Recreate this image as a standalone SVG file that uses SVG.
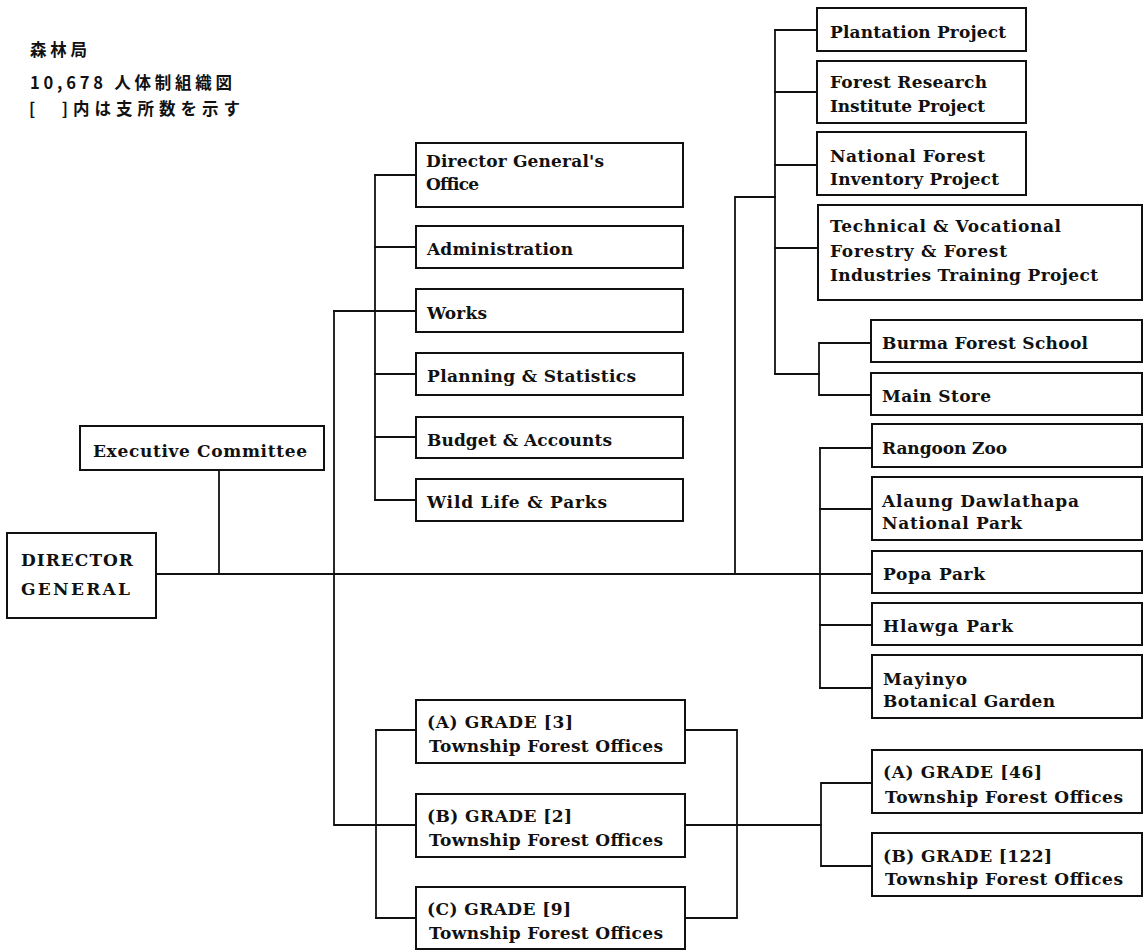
<svg xmlns="http://www.w3.org/2000/svg" width="1144" height="951" viewBox="0 0 1144 951">
  <style>
    .box { fill: #ffffff; stroke: #111111; stroke-width: 2; }
    .wire { fill: none; stroke: #111111; stroke-width: 1.8; stroke-linecap: square; }
    .lbl { font-family: "DejaVu Serif", "Liberation Serif", serif; font-size: 17px; font-weight: bold; fill: #111111; }
    .grd { font-family: "DejaVu Serif", "Liberation Serif", serif; font-size: 17px; fill: #111111; font-weight: bold; }
    .jp { font-family: "Noto Sans CJK JP", "Noto Sans CJK SC", sans-serif; font-size: 16.5px; font-weight: bold; fill: #111111; }
  </style>

  <rect width="1144" height="951" fill="#ffffff"/>

  <!-- heading -->
  <g id="heading">
    <text class="jp" x="30" y="56" textLength="57">森林局</text>
    <text class="jp" x="30" y="89" textLength="202">10,678 人体制組織図</text>
    <text class="jp" x="29" y="115" textLength="211">[　]内は支所数を示す</text>
  </g>

  <!-- connectors -->
  <g id="connectors">
    <!-- trunk from the Director General -->
    <path class="wire" d="M156 574 H872"/>
    <path class="wire" d="M219 470 V574"/>
    <!-- headquarters departments -->
    <path class="wire" d="M334 311 V825 H416"/>
    <path class="wire" d="M334 311 H375"/>
    <path class="wire" d="M375 175 V500"/>
    <path class="wire" d="M375 175 H416 M375 247 H416 M375 311 H416 M375 374 H416 M375 437 H416 M375 500 H416"/>
    <!-- projects -->
    <path class="wire" d="M735 574 V197 H775"/>
    <path class="wire" d="M775 30 V374"/>
    <path class="wire" d="M775 30 H817 M775 92 H817 M775 165 H817 M775 248 H818"/>
    <path class="wire" d="M775 374 H819"/>
    <path class="wire" d="M819 343 V395 M819 343 H871 M819 395 H871"/>
    <!-- parks and zoo -->
    <path class="wire" d="M820 448 V688"/>
    <path class="wire" d="M820 448 H872 M820 509 H872 M820 625 H872 M820 688 H872"/>
    <!-- district township offices -->
    <path class="wire" d="M376 730 V918"/>
    <path class="wire" d="M376 730 H416 M376 918 H416"/>
    <path class="wire" d="M685 730 H737 V918 H685"/>
    <path class="wire" d="M685 825 H821"/>
    <path class="wire" d="M821 783 V866 M821 783 H872 M821 866 H872"/>
  </g>

  <g id="director-general">
    <rect class="box" x="7" y="533" width="149" height="85"/>
    <text class="lbl" x="21" y="566" textLength="112">DIRECTOR</text>
    <text class="lbl" x="21" y="595" textLength="109">GENERAL</text>
  </g>

  <g id="executive-committee">
    <rect class="box" x="80" y="426" width="244" height="44"/>
    <text class="lbl" x="93" y="457" textLength="214">Executive Committee</text>
  </g>

  <g id="dg-office">
    <rect class="box" x="416" y="143" width="267" height="64"/>
    <text class="lbl" x="426" y="167" textLength="178">Director General's</text>
    <text class="lbl" x="426" y="190" textLength="53">Office</text>
  </g>

  <g id="administration">
    <rect class="box" x="416" y="226" width="267" height="42"/>
    <text class="lbl" x="427" y="255" textLength="146">Administration</text>
  </g>

  <g id="works">
    <rect class="box" x="416" y="289" width="267" height="43"/>
    <text class="lbl" x="427" y="319" textLength="60">Works</text>
  </g>

  <g id="planning">
    <rect class="box" x="416" y="353" width="267" height="42"/>
    <text class="lbl" x="427" y="382" textLength="209">Planning &amp; Statistics</text>
  </g>

  <g id="budget">
    <rect class="box" x="416" y="417" width="267" height="41"/>
    <text class="lbl" x="427" y="446" textLength="185">Budget &amp; Accounts</text>
  </g>

  <g id="wildlife">
    <rect class="box" x="416" y="479" width="267" height="42"/>
    <text class="lbl" x="427" y="508" textLength="180">Wild Life &amp; Parks</text>
  </g>

  <g id="plantation">
    <rect class="box" x="817" y="8" width="209" height="43"/>
    <text class="lbl" x="830" y="38" textLength="176">Plantation Project</text>
  </g>

  <g id="forest-research">
    <rect class="box" x="817" y="61" width="209" height="62"/>
    <text class="lbl" x="830" y="88" textLength="157">Forest Research</text>
    <text class="lbl" x="830" y="112" textLength="155">Institute Project</text>
  </g>

  <g id="forest-inventory">
    <rect class="box" x="817" y="132" width="209" height="63"/>
    <text class="lbl" x="830" y="162" textLength="155">National Forest</text>
    <text class="lbl" x="830" y="185" textLength="169">Inventory Project</text>
  </g>

  <g id="training">
    <rect class="box" x="818" y="205" width="324" height="95"/>
    <text class="lbl" x="830" y="232" textLength="231">Technical &amp; Vocational</text>
    <text class="lbl" x="830" y="257" textLength="177">Forestry &amp; Forest</text>
    <text class="lbl" x="830" y="281" textLength="268">Industries Training Project</text>
  </g>

  <g id="forest-school">
    <rect class="box" x="871" y="320" width="271" height="42"/>
    <text class="lbl" x="882" y="349" textLength="206">Burma Forest School</text>
  </g>

  <g id="main-store">
    <rect class="box" x="871" y="373" width="271" height="42"/>
    <text class="lbl" x="882" y="402" textLength="109">Main Store</text>
  </g>

  <g id="zoo">
    <rect class="box" x="872" y="424" width="270" height="43"/>
    <text class="lbl" x="882" y="454" textLength="125">Rangoon Zoo</text>
  </g>

  <g id="national-park">
    <rect class="box" x="872" y="477" width="270" height="63"/>
    <text class="lbl" x="882" y="507" textLength="197">Alaung Dawlathapa</text>
    <text class="lbl" x="882" y="529" textLength="140">National Park</text>
  </g>

  <g id="popa">
    <rect class="box" x="872" y="551" width="270" height="42"/>
    <text class="lbl" x="883" y="580" textLength="102">Popa Park</text>
  </g>

  <g id="hlawga">
    <rect class="box" x="872" y="603" width="270" height="42"/>
    <text class="lbl" x="883" y="632" textLength="130">Hlawga Park</text>
  </g>

  <g id="botanical">
    <rect class="box" x="872" y="655" width="270" height="63"/>
    <text class="lbl" x="883" y="685" textLength="84">Mayinyo</text>
    <text class="lbl" x="883" y="707" textLength="172">Botanical Garden</text>
  </g>

  <g id="grade-a-district">
    <rect class="box" x="416" y="700" width="269" height="63"/>
    <text class="grd" x="427" y="728" textLength="146">(A) GRADE [3]</text>
    <text class="grd" x="429" y="752" textLength="234">Township Forest Offices</text>
  </g>

  <g id="grade-b-district">
    <rect class="box" x="416" y="794" width="269" height="63"/>
    <text class="grd" x="427" y="822" textLength="145">(B) GRADE [2]</text>
    <text class="grd" x="429" y="846" textLength="234">Township Forest Offices</text>
  </g>

  <g id="grade-c-district">
    <rect class="box" x="416" y="887" width="269" height="62"/>
    <text class="grd" x="427" y="915" textLength="144">(C) GRADE [9]</text>
    <text class="grd" x="429" y="939" textLength="234">Township Forest Offices</text>
  </g>

  <g id="grade-a-township">
    <rect class="box" x="872" y="750" width="270" height="63"/>
    <text class="grd" x="883" y="778" textLength="159">(A) GRADE [46]</text>
    <text class="grd" x="885" y="803" textLength="238">Township Forest Offices</text>
  </g>

  <g id="grade-b-township">
    <rect class="box" x="872" y="833" width="270" height="63"/>
    <text class="grd" x="883" y="862" textLength="169">(B) GRADE [122]</text>
    <text class="grd" x="885" y="885" textLength="238">Township Forest Offices</text>
  </g>
</svg>
